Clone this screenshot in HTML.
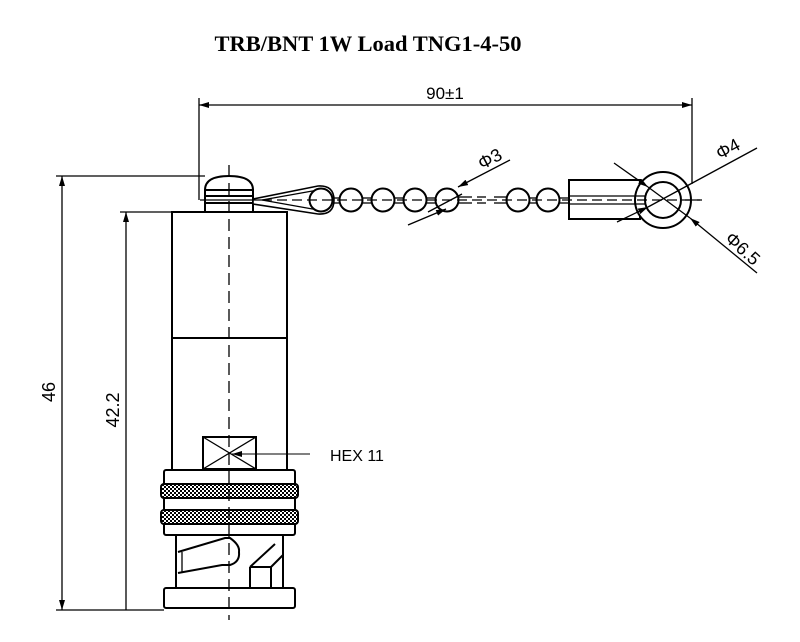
<!DOCTYPE html>
<html><head><style>body{margin:0;background:#fff}svg{display:block}</style></head><body>
<svg width="800" height="642" viewBox="0 0 800 642" xmlns="http://www.w3.org/2000/svg" font-family="Liberation Sans, sans-serif">
<defs>
<marker id="a" viewBox="0 0 10 6" refX="10" refY="3" markerWidth="10" markerHeight="6" orient="auto-start-reverse" markerUnits="userSpaceOnUse"><path d="M0,0L10,3L0,6z" fill="#000"/></marker>
<pattern id="k" width="4" height="4" patternUnits="userSpaceOnUse"><rect width="4" height="4" fill="#000"/><rect x="0" y="0" width="2" height="2" fill="#fff"/><rect x="2" y="2" width="2" height="2" fill="#fff"/></pattern>
</defs>
<text x="368" y="51" text-anchor="middle" font-family="Liberation Serif, serif" font-weight="bold" font-size="22.5">TRB/BNT 1W Load TNG1-4-50</text>
<g stroke="#000" fill="none" stroke-width="1.3">
<line x1="199" y1="98" x2="199" y2="200"/>
<line x1="692" y1="98" x2="692" y2="184"/>
<line x1="199" y1="105" x2="692" y2="105" marker-start="url(#a)" marker-end="url(#a)"/>
<line x1="56" y1="176" x2="205" y2="176"/>
<line x1="56" y1="610" x2="164" y2="610"/>
<line x1="62" y1="176" x2="62" y2="610" marker-start="url(#a)" marker-end="url(#a)"/>
<line x1="120" y1="212" x2="172" y2="212"/>
<line x1="126" y1="212" x2="126" y2="610" marker-start="url(#a)"/>
</g>
<text x="445" y="99" text-anchor="middle" font-size="17">90±1</text>
<text transform="translate(55,392) rotate(-90)" text-anchor="middle" font-size="18">46</text>
<text transform="translate(119,410) rotate(-90)" text-anchor="middle" font-size="18">42.2</text>
<g stroke="#000" fill="#fff" stroke-width="2">
<path d="M205,190 Q205,176 229,176 Q253,176 253,190 Z"/>
<rect x="205" y="190" width="48" height="22"/>
<line x1="205" y1="196" x2="253" y2="196"/>
<line x1="205" y1="203" x2="253" y2="203"/>
<rect x="172" y="212" width="115" height="258"/>
<line x1="172" y1="338" x2="287" y2="338"/>
<rect x="203" y="437" width="53" height="32"/>
<line x1="203" y1="437" x2="256" y2="469" stroke-width="1.3"/>
<line x1="256" y1="437" x2="203" y2="469" stroke-width="1.3"/>
<rect x="164" y="470" width="131" height="65" rx="2"/>
<rect x="161" y="484" width="137" height="14" rx="3" fill="url(#k)"/>
<rect x="161" y="510" width="137" height="14" rx="3" fill="url(#k)"/>
<rect x="176" y="535" width="107" height="53"/>
<path d="M178,552 L225,538 L230,538 Q240,545 239,552 Q240,562 230,565 L222,565 L178,573" />
<line x1="182" y1="552" x2="182" y2="573" stroke-width="1.3"/>
<path d="M250,567 L250,588 M250,567 L275,544 M250,567 L271,567 L271,588 M271,567 L283,555"/>
<rect x="164" y="588" width="131" height="20" rx="2"/>
<path d="M253,199 L318,186 Q334,185 334,200 Q334,215 318,214 L253,204 Z" stroke-width="1.6"/>
<path d="M262,200 L318,190 Q329,191 329,200 Q329,209 318,210 Z" stroke-width="1.3"/>
<circle cx="321" cy="200" r="11.5"/>
<line x1="332" y1="198" x2="340" y2="198" stroke-width="1.3"/><line x1="332" y1="203" x2="340" y2="203" stroke-width="1.3"/>
<circle cx="351" cy="200" r="11.5"/>
<line x1="362" y1="198" x2="372" y2="198" stroke-width="1.3"/><line x1="362" y1="203" x2="372" y2="203" stroke-width="1.3"/>
<circle cx="383" cy="200" r="11.5"/>
<line x1="394" y1="198" x2="404" y2="198" stroke-width="1.3"/><line x1="394" y1="203" x2="404" y2="203" stroke-width="1.3"/>
<circle cx="415" cy="200" r="11.5"/>
<line x1="426" y1="198" x2="436" y2="198" stroke-width="1.3"/><line x1="426" y1="203" x2="436" y2="203" stroke-width="1.3"/>
<circle cx="447" cy="200" r="11.5"/>
<line x1="458" y1="197" x2="472" y2="197" stroke-width="1.3"/><line x1="458" y1="203" x2="472" y2="203" stroke-width="1.3"/>
<line x1="477" y1="197" x2="486" y2="197" stroke-width="1.3"/><line x1="477" y1="203" x2="486" y2="203" stroke-width="1.3"/>
<line x1="494" y1="197" x2="507" y2="197" stroke-width="1.3"/><line x1="494" y1="203" x2="507" y2="203" stroke-width="1.3"/>
<circle cx="518" cy="200" r="11.5"/>
<line x1="529" y1="198" x2="538" y2="198" stroke-width="1.3"/><line x1="529" y1="203" x2="538" y2="203" stroke-width="1.3"/>
<circle cx="548" cy="200" r="11.5"/>
<line x1="559" y1="198" x2="569" y2="198" stroke-width="1.3"/><line x1="559" y1="203" x2="569" y2="203" stroke-width="1.3"/>
<path d="M569,180 L640,180 L640,219 L569,219 Z"/>
<circle cx="663" cy="200" r="28"/>
<circle cx="663" cy="200" r="18"/>
<line x1="569" y1="196" x2="645" y2="196" stroke-width="1.3"/>
<line x1="569" y1="204" x2="645" y2="204" stroke-width="1.3"/>
</g>
<g stroke="#000" fill="none" stroke-width="1.3">
<line x1="200" y1="200" x2="262" y2="200"/>
<line x1="229" y1="165" x2="229" y2="620" stroke-dasharray="12,6"/>
<line x1="262" y1="200" x2="700" y2="200" stroke-dasharray="10,5"/>
<line x1="685" y1="200" x2="702" y2="200"/>
<line x1="408" y1="225" x2="446" y2="209" marker-end="url(#a)"/>
<line x1="510" y1="160" x2="458" y2="187" marker-end="url(#a)"/>
<line x1="428" y1="212" x2="462" y2="194"/>
<line x1="614" y1="163" x2="648" y2="187" marker-end="url(#a)"/>
<line x1="617" y1="222" x2="648" y2="207" marker-end="url(#a)"/>
<line x1="648" y1="207" x2="757" y2="148"/>
<line x1="648" y1="187" x2="690" y2="218"/>
<line x1="757" y1="273" x2="690" y2="218" marker-end="url(#a)"/>
<line x1="310" y1="454" x2="232" y2="454" marker-end="url(#a)" stroke-width="1"/>
</g>
<text transform="translate(482,170) rotate(-28)" font-size="18">Φ3</text>
<text transform="translate(720,160) rotate(-28)" font-size="18">Φ4</text>
<text transform="translate(724,240) rotate(42)" font-size="18">Φ6.5</text>
<text x="330" y="461" font-size="16">HEX  11</text>
</svg>
</body></html>
